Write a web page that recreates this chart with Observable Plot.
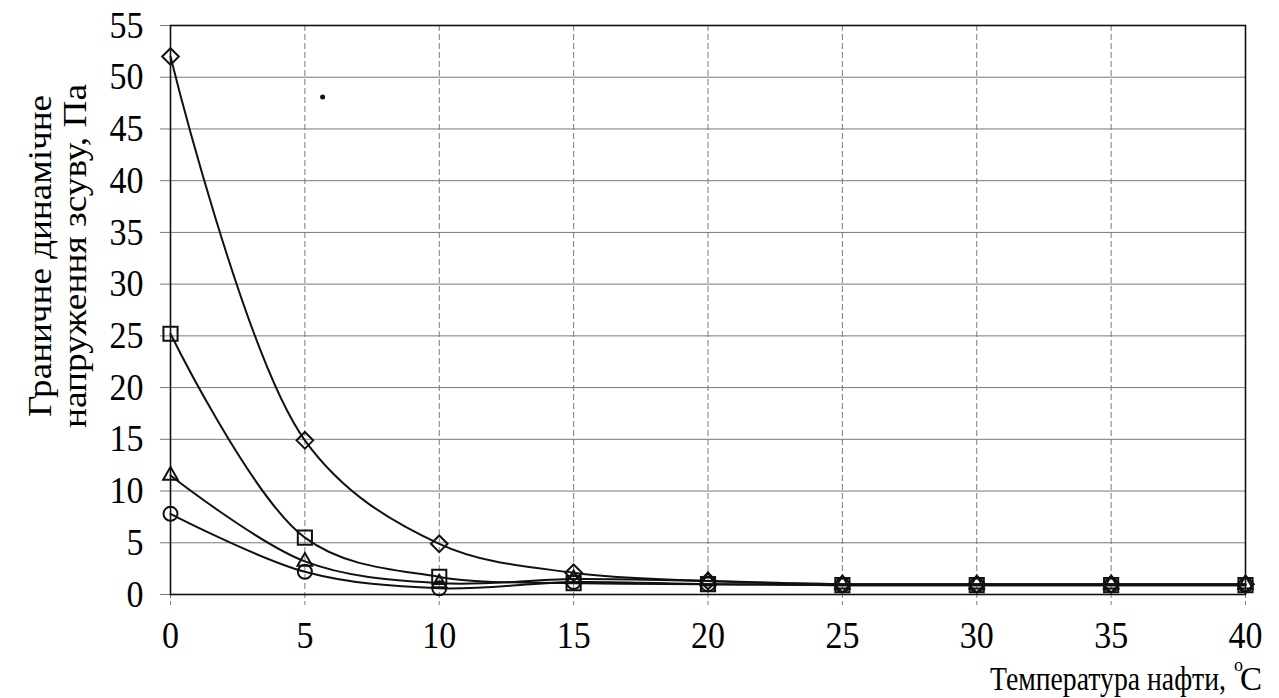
<!DOCTYPE html>
<html>
<head>
<meta charset="utf-8">
<script src="https://cdn.jsdelivr.net/npm/d3@7"></script>
<script src="https://cdn.jsdelivr.net/npm/@observablehq/plot@0.6"></script>
<style>
  html, body { margin: 0; padding: 0; background: white; }
  #chart { width: 1279px; height: 698px; }
</style>
</head>
<body>
<div id="chart"></div>
<script>
// Data
const temps = [0, 5, 10, 15, 20, 25, 30, 35, 40];
const diamondVals  = [52.0, 14.9, 4.9, 2.1, 1.3, 1.0, 1.0, 1.0, 1.0];
const squareVals   = [25.2, 5.5, 1.7, 1.1, 1.0, 0.9, 0.9, 0.9, 0.9];
const triangleVals = [11.5, 3.2, 1.1, 1.5, 1.3, 1.0, 1.0, 1.0, 1.0];
const circleVals   = [7.8, 2.2, 0.6, 1.2, 1.0, 0.9, 0.9, 0.9, 0.9];
const strayPoint   = [{t: 5.66, v: 48.1}];
const xTicks = [0, 5, 10, 15, 20, 25, 30, 35, 40];
const yTicks = [0, 5, 10, 15, 20, 25, 30, 35, 40, 45, 50, 55];
const yLabelLines = ["Граничне динамічне", "напруження зсуву, Па"];
const xLabelText = "Температура нафти,";
const xLabelSup = "o";
const xLabelUnit = "C";

const series = [
  {vals: diamondVals,  symbol: "diamond2",  r: 7.5},
  {vals: squareVals,   symbol: "square2",   r: 9},
  {vals: triangleVals, symbol: "triangle2", r: 7},
  {vals: circleVals,   symbol: "circle",    r: 7}
];
const tables = series.map(s => temps.map((t, i) => ({t, v: s.vals[i]})));

const font = '"Liberation Serif", Tinos, "Times New Roman", "Nimbus Roman", "DejaVu Serif Condensed", "DejaVu Serif", serif';

const chart = Plot.plot({
  width: 1279,
  height: 698,
  marginLeft: 170,
  marginRight: 34,
  marginTop: 25,
  marginBottom: 104,
  x: {domain: [0, 40]},
  y: {domain: [0, 55]},
  style: {fontFamily: font, background: "white", color: "black"},
  marks: [
    Plot.gridY(yTicks, {stroke: "#7a7a7a", strokeOpacity: 1, strokeWidth: 1}),
    Plot.gridX(xTicks, {stroke: "#7a7a7a", strokeOpacity: 1, strokeDasharray: "6,3"}),
    Plot.axisY(yTicks, {tickSize: 10, tickPadding: 17, fontSize: 38, stroke: "#7a7a7a", fill: "black", label: null}),
    Plot.axisX(xTicks, {tickSize: 14, tickPadding: 13, fontSize: 38, stroke: "#7a7a7a", strokeDasharray: "4,3", fill: "black", label: null}),
    Plot.frame({stroke: "#111", strokeWidth: 1.6}),
    ...tables.map(tb => Plot.line(tb, {x: "t", y: "v", curve: "catmull-rom", stroke: "#111", strokeWidth: 2})),
    ...tables.map((tb, k) => Plot.dot(tb, {x: "t", y: "v", symbol: () => series[k].symbol, r: series[k].r, stroke: "#111", strokeWidth: 2, fill: "none"})),
    Plot.dot(strayPoint, {x: "t", y: "v", r: 2.5, fill: "#111", stroke: "none"})
  ]
});

const svg = d3.select(chart);
svg.selectAll("text").attr("font-family", font);
// fit tick-label widths to the reference glyph widths
svg.selectAll('g[aria-label="y-axis tick label"] text, g[aria-label="x-axis tick label"] text').each(function () {
  const n = this.textContent.length;
  this.setAttribute("textLength", n * 17);
  this.setAttribute("lengthAdjust", "spacingAndGlyphs");
});

// Y-axis title (two lines, rotated, centred on a common centre)
const yTitle = [
  {bx: 51, cy: 256, len: 322},
  {bx: 86, cy: 256, len: 344}
];
yTitle.forEach((p, i) => {
  svg.append("text")
    .attr("transform", `translate(${p.bx},${p.cy}) rotate(-90)`)
    .attr("text-anchor", "middle")
    .attr("font-family", font)
    .attr("font-size", 33)
    .attr("fill", "black")
    .attr("textLength", p.len)
    .attr("lengthAdjust", "spacingAndGlyphs")
    .text(yLabelLines[i]);
});

// X-axis title
const xt = svg.append("text")
  .attr("y", 690)
  .attr("text-anchor", "start")
  .attr("font-family", font)
  .attr("font-size", 33)
  .attr("fill", "black");
xt.append("tspan").attr("x", 990).attr("textLength", 236).attr("lengthAdjust", "spacingAndGlyphs").text(xLabelText);
xt.append("tspan").attr("x", 1234).attr("dy", -19).attr("font-size", 18).text(xLabelSup);
xt.append("tspan").attr("x", 1240).attr("dy", 19).text(xLabelUnit);

document.getElementById("chart").appendChild(chart);
</script>
</body>
</html>
